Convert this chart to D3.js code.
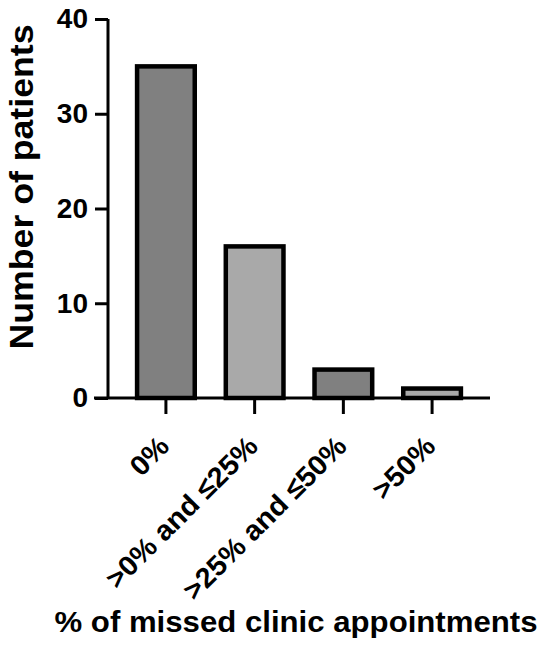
<!DOCTYPE html>
<html><head><meta charset="utf-8">
<script src="https://cdn.jsdelivr.net/npm/d3@7/dist/d3.min.js"></script>
<style>body{margin:0;background:#fff}</style>
</head><body>
<script>
const categories = ["0%", ">0% and \u226425%", ">25% and \u226450%", ">50%"];
const values = [35, 16, 3, 1];
const fills = ["#808080", "#a9a9a9", "#808080", "#a9a9a9"];
const yTicks = [0, 10, 20, 30, 40];

const W = 550, H = 647;
const font = "'Liberation Sans', Arial, sans-serif";
const svg = d3.select("body").append("svg").attr("width", W).attr("height", H);

const x = d3.scaleBand().domain(categories).range([122, 476]).paddingInner(0.35).paddingOuter(0.17);
const y = d3.scaleLinear().domain([0, 40]).range([398, 19]);

// bars
svg.selectAll("rect.bar").data(values).join("rect")
  .attr("x", (d, i) => x(categories[i]))
  .attr("y", d => y(d))
  .attr("width", x.bandwidth())
  .attr("height", d => y(0) - y(d))
  .attr("fill", (d, i) => fills[i])
  .attr("stroke", "#000").attr("stroke-width", 4.5);

// y axis
const yAxis = svg.append("g").attr("transform", "translate(108,0)")
  .call(d3.axisLeft(y).tickValues(yTicks).tickSize(13).tickPadding(7));
yAxis.select(".domain").attr("stroke", "#000").attr("stroke-width", 3).attr("d", `M0,${y(40)}V${y(0)}`);
yAxis.selectAll(".tick line").attr("stroke-width", 3);
yAxis.selectAll("text").attr("font-family", font).attr("font-weight", "bold").attr("font-size", 28).attr("fill", "#000");

// x axis
const xAxis = svg.append("g").attr("transform", `translate(0,${y(0)})`)
  .call(d3.axisBottom(x).tickSize(16).tickPadding(0).tickFormat(""));
xAxis.select(".domain").attr("stroke-width", 3).attr("d", "M94,0H490");
xAxis.selectAll(".tick line").attr("stroke-width", 3);

// x labels rotated
svg.selectAll("text.xl").data(categories).join("text")
  .attr("class", "xl")
  .attr("transform", d => `translate(${x(d) + x.bandwidth() / 2 + 5},${y(0) + 50}) rotate(-45)`)
  .attr("text-anchor", "end")
  .attr("font-family", font).attr("font-weight", "bold").attr("font-size", 28)
  .text(d => d)
  .each(function () {
    const L = this.getComputedTextLength();
    d3.select(this).attr("textLength", L * 1.04).attr("lengthAdjust", "spacingAndGlyphs");
  });

// axis titles
svg.append("text")
  .attr("transform", "translate(33,187) rotate(-90)")
  .attr("text-anchor", "middle")
  .attr("font-family", font).attr("font-weight", "bold").attr("font-size", 33)
  .attr("textLength", 325).attr("lengthAdjust", "spacingAndGlyphs")
  .text("Number of patients");

svg.append("text")
  .attr("x", 296).attr("y", 632)
  .attr("text-anchor", "middle")
  .attr("font-family", font).attr("font-weight", "bold").attr("font-size", 30)
  .attr("textLength", 483).attr("lengthAdjust", "spacingAndGlyphs")
  .text("% of missed clinic appointments");
</script>
</body></html>
